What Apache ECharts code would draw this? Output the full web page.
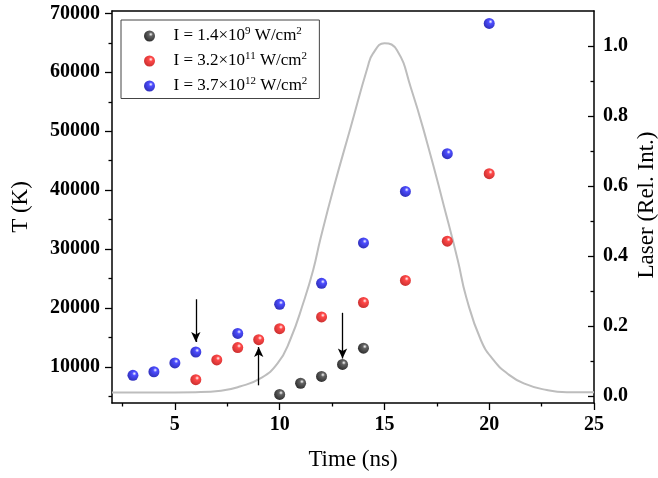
<!DOCTYPE html>
<html><head><meta charset="utf-8">
<script src="https://cdn.jsdelivr.net/npm/echarts@6/dist/echarts.min.js"></script>
<style>html,body{margin:0;padding:0;background:#fff}#c{width:658px;height:478px}</style>
</head><body><div id="c"></div>
<script>
// ---- data ----
const blackT = [10, 11, 12, 13, 14];
const blackK = [5350, 7250, 8400, 10450, 13200];
const redT = [6, 7, 8, 9, 10, 12, 14, 16, 18, 20];
const redK = [7850, 11200, 13300, 14650, 16500, 18500, 20950, 24700, 31350, 42800];
const blueT = [3, 4, 5, 6, 8, 10, 12, 14, 16, 18, 20];
const blueK = [8600, 9200, 10700, 12550, 15700, 20650, 24200, 31050, 39800, 46200, 68300];
const laserT = [2, 4, 6, 7.2, 8.1, 9.1, 9.9, 10.5, 11.15, 11.6, 11.95, 12.6, 13.4, 14.2, 14.45, 15.0, 15.6, 16.25, 17.05, 17.85, 18.5, 18.9, 19.6, 20.2, 20.85, 21.65, 22.75, 23.7, 25];
const laserV = [0.01, 0.01, 0.011, 0.015, 0.027, 0.051, 0.093, 0.16, 0.27, 0.36, 0.45, 0.6, 0.77, 0.94, 0.978, 1.008, 0.988, 0.883, 0.721, 0.54, 0.388, 0.283, 0.16, 0.103, 0.065, 0.036, 0.017, 0.011, 0.011];
const arrowT = [6, 9, 13];
const arrowFrom = [21500, 6900, 19200];
const arrowTo = [14250, 13400, 11450];
const xTicks = [5, 10, 15, 20, 25];
const yTicks = [10000, 20000, 30000, 40000, 50000, 60000, 70000];
const y2Ticks = [0, 0.2, 0.4, 0.6, 0.8, 1.0];
const seriesNames = ['black', 'red', 'blue'];
const legendTexts = [
  ['I = 1.4×10', '9', ' W/cm', '2'],
  ['I = 3.2×10', '11', ' W/cm', '2'],
  ['I = 3.7×10', '12', ' W/cm', '2']
];
const y2Title = 'Laser (Rel. Int.)';

const chart = echarts.init(document.getElementById('c'));
const zip = (a, b) => a.map((v, i) => [v, b[i]]);
function sphere(base, dark) {
  return new echarts.graphic.RadialGradient(0.62, 0.35, 0.62, [
    { offset: 0, color: '#ffffff' },
    { offset: 0.3, color: base },
    { offset: 1, color: dark }
  ]);
}
const colors = {
  black: sphere('#3a3a3a', '#000000'),
  red: sphere('#ff1a1a', '#c40000'),
  blue: sphere('#2020ff', '#0000b0')
};
const FONT = 'Liberation Serif';
const axisLineStyle = { color: '#000', width: 1.5 };
const tickLine = { color: '#000', width: 1.3 };
const labelStyle = { fontFamily: FONT, fontWeight: 'bold', fontSize: 20, color: '#000' };
const nameStyle = { fontFamily: FONT, fontSize: 23, color: '#000' };

function scatter(key, t, k, extra) {
  return Object.assign({
    name: key,
    type: 'scatter',
    xAxisIndex: 0,
    yAxisIndex: 0,
    symbol: 'circle',
    symbolSize: 11,
    itemStyle: { color: colors[key] },
    data: zip(t, k),
    z: 5
  }, extra || {});
}

const option = {
  animation: false,
  textStyle: { fontFamily: FONT },
  grid: { left: 112, right: 64, top: 11, bottom: 75 },
  graphic: [{
    type: 'text', x: 647, y: 205, rotation: Math.PI / 2, silent: true,
    style: { text: y2Title, fontFamily: FONT, fontSize: 23, fill: '#000', align: 'center', verticalAlign: 'middle' }
  }],
  legend: {
    orient: 'vertical',
    left: 121,
    top: 20,
    padding: [6, 12, 4, 23],
    itemWidth: 38,
    itemHeight: 11,
    itemGap: 6.5,
    borderColor: '#444',
    borderWidth: 1,
    data: seriesNames.map(n => ({ name: n, icon: 'circle', itemStyle: { color: colors[n] } })),
    formatter: function (name) {
      const t = legendTexts[seriesNames.indexOf(name)];
      return '{a|' + t[0] + '}{s|' + t[1] + '}{a|' + t[2] + '}{s|' + t[3] + '}';
    },
    textStyle: {
      fontFamily: FONT,
      color: '#000',
      rich: {
        a: { fontFamily: FONT, fontSize: 17, lineHeight: 20, color: '#000' },
        s: { fontFamily: FONT, fontSize: 11, lineHeight: 11, color: '#000', verticalAlign: 'top' }
      }
    }
  },
  xAxis: [{
    type: 'value', min: 2, max: 25, minInterval: 5, maxInterval: 5,
    axisLine: { show: true, onZero: false, lineStyle: axisLineStyle },
    axisTick: { show: true, length: 7, customValues: xTicks, lineStyle: tickLine },
    minorTick: { show: true, splitNumber: 2, length: 3.5, lineStyle: tickLine },
    axisLabel: Object.assign({ margin: 12, customValues: xTicks, formatter: v => String(v) }, labelStyle),
    splitLine: { show: false },
    name: 'Time (ns)', nameLocation: 'middle', nameGap: 45, nameTextStyle: nameStyle
  }, {
    type: 'value', position: 'top', min: 2, max: 25,
    axisLine: { show: true, onZero: false, lineStyle: axisLineStyle },
    axisTick: { show: false }, axisLabel: { show: false }, splitLine: { show: false }
  }],
  yAxis: [{
    type: 'value', position: 'left', min: 3900, max: 70400, minInterval: 10000, maxInterval: 10000,
    axisLine: { show: true, onZero: false, lineStyle: axisLineStyle },
    axisTick: { show: true, length: 7, customValues: yTicks, lineStyle: tickLine },
    minorTick: { show: true, splitNumber: 2, length: 3.5, lineStyle: tickLine },
    axisLabel: Object.assign({ margin: 12, customValues: yTicks, formatter: v => String(v) }, labelStyle),
    splitLine: { show: false },
    name: 'T (K)', nameLocation: 'middle', nameGap: 80, nameTextStyle: nameStyle
  }, {
    type: 'value', position: 'right', min: -0.02, max: 1.1, minInterval: 0.2, maxInterval: 0.2,
    axisLine: { show: true, onZero: false, lineStyle: axisLineStyle },
    axisTick: { show: true, inside: true, length: 6, customValues: y2Ticks, lineStyle: tickLine },
    minorTick: { show: true, splitNumber: 2, length: 3.5, lineStyle: tickLine },
    axisLabel: Object.assign({ margin: 9, customValues: y2Ticks, formatter: v => v.toFixed(1) }, labelStyle),
    splitLine: { show: false }
  }],
  series: [
    {
      name: 'laser', type: 'line', xAxisIndex: 0, yAxisIndex: 1,
      data: zip(laserT, laserV), showSymbol: false, smooth: 0.5,
      lineStyle: { color: '#bdbdbd', width: 2 }, z: 1, silent: true
    },
    scatter('black', blackT, blackK, {
      markLine: {
        silent: true, symbol: ['none', 'arrow'], symbolSize: [7, 10],
        label: { show: false },
        lineStyle: { color: '#000', width: 1.3, type: 'solid' },
        emphasis: { disabled: true },
        data: arrowT.map((t, i) => [{ coord: [t, arrowFrom[i]] }, { coord: [t, arrowTo[i]] }])
      }
    }),
    scatter('red', redT, redK),
    scatter('blue', blueT, blueK)
  ]
};
chart.setOption(option);
</script>
</body></html>
